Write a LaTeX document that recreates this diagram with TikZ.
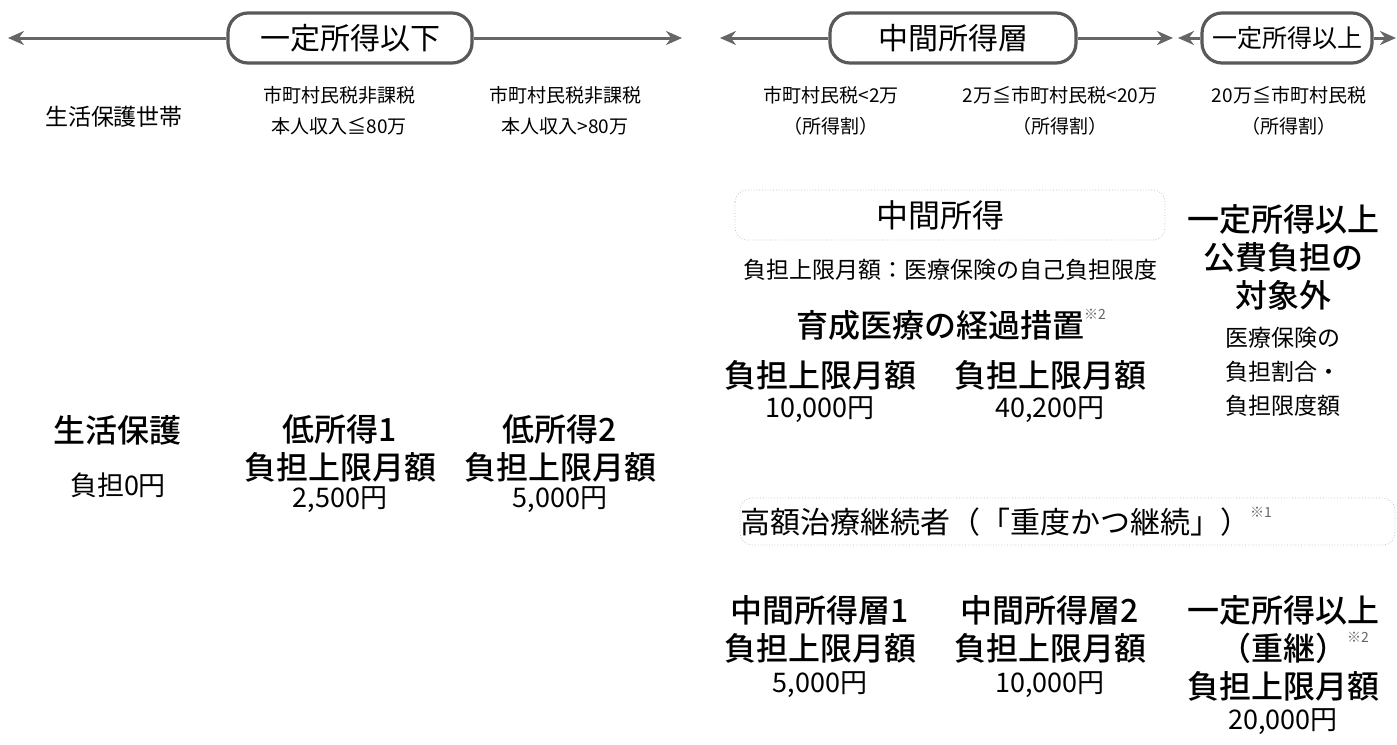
\documentclass[tikz,border=0pt]{standalone}
\usepackage{fontspec}
\setmainfont{Noto Sans CJK JP}[BoldFont={Noto Sans CJK JP Medium}]
\usetikzlibrary{arrows.meta,positioning}
\newcommand{\kome}[1]{\rlap{\raisebox{0.55em}{\normalfont\fontsize{7}{7}\selectfont\color{black!60}※#1}}}
\tikzset{
	x=0.5pt, y=-0.5pt,
	band/.style={draw=black!65, line width=1.6pt, rounded corners=10pt, minimum height=25pt, inner xsep=0pt, font=\fontsize{15}{15}\selectfont},
	span/.style={draw=black!60, line width=1.5pt, -{Stealth[length=8pt,width=7pt]}},
	cond/.style={font=\fontsize{9.5}{15.5}\selectfont, align=center, inner sep=0pt},
	lbl/.style={font=\fontsize{11.5}{17}\selectfont, align=center, inner sep=0pt},
	big/.style={font=\bfseries\fontsize{16}{19}\selectfont, align=center, inner sep=0pt},
	amt/.style={font=\fontsize{13.5}{17}\selectfont, align=center, inner sep=0pt},
	shade/.style={draw=black!25, densely dotted, rounded corners=6pt}
}
\begin{document}
\begin{tikzpicture}
	\useasboundingbox (0,0) rectangle (1397,744);
	
	% income bands
	\node[band, minimum width=122pt] (low) at (350, 38) {一定所得以下};
	\node[band, minimum width=123pt] (mid) at (953, 38) {中間所得層};
	\node[band, minimum width=85pt, font=\fontsize{12.5}{12.5}\selectfont] (high) at (1287, 38) {一定所得以上};
	\coordinate (lowL) at (8, 38);
	\coordinate (lowR) at (682, 38);
	\coordinate (midL) at (720, 38);
	\coordinate (midR) at (1173, 38);
	\coordinate (highL) at (1178, 38);
	\coordinate (highR) at (1396, 38);
	\draw[span] (low.west) -- (lowL);
	\draw[span] (low.east) -- (lowR);
	\draw[span] (mid.west) -- (midL);
	\draw[span] (mid.east) -- (midR);
	\draw[span] (high.west) -- (highL);
	\draw[span] (high.east) -- (highR);
	
	% conditions
	\node[lbl] (c0) at (114, 117) {生活保護世帯};
	\node[cond] (c1) at (339, 111) {市町村民税非課税\\本人収入≦80万};
	\node[cond] (c2) at (565, 111) {市町村民税非課税\\本人収入>80万};
	\node[cond] (c3) at (831, 111) {市町村民税<2万\\（所得割）};
	\node[cond] (c4) at (1060, 111) {2万≦市町村民税<20万\\（所得割）};
	\node[cond] (c5) at (1289, 111) {20万≦市町村民税\\（所得割）};
	
	% low income
	\node[big] (seiho) at (118, 430) {生活保護};
	\node[amt] (seihoY) at (118, 485) {負担0円};
	\node[big] (tei1) at (340, 448) {低所得1\\負担上限月額};
	\node[amt] (tei1Y) at (340, 500) {2,500円};
	\node[big] (tei2) at (560, 448) {低所得2\\負担上限月額};
	\node[amt] (tei2Y) at (560, 500) {5,000円};
	
	% middle income
	\draw[shade] (735, 190) rectangle (1165, 240);
	\node[big, font=\fontsize{16}{19}\selectfont] (chukan) at (940, 215) {中間所得};
	\node[lbl] (gendo) at (950, 270) {負担上限月額：医療保険の自己負担限度};
	\node[big] (ikusei) at (940, 325) {育成医療の経過措置\kome{2}};
	\node[big] (ik1) at (820, 375) {負担上限月額};
	\node[amt] (ik1Y) at (820, 410) {10,000円};
	\node[big] (ik2) at (1050, 375) {負担上限月額};
	\node[amt] (ik2Y) at (1050, 410) {40,200円};
	
	% high income
	\node[big] (gai) at (1283, 257) {一定所得以上\\公費負担の\\対象外};
	\node[lbl] (gaiT) at (1283, 372) {医療保険の\\負担割合・\\負担限度額};
	
	% heavy and continuing
	\draw[shade] (740, 498) rectangle (1395, 545);
	\node[big, font=\fontsize{15}{19}\selectfont] (juzoku) at (995, 522) {高額治療継続者（「重度かつ継続」）\kome{1}};
	\node[big] (jz1) at (820, 629) {中間所得層1\\負担上限月額};
	\node[amt] (jz1Y) at (820, 685) {5,000円};
	\node[big] (jz2) at (1050, 629) {中間所得層2\\負担上限月額};
	\node[amt] (jz2Y) at (1050, 685) {10,000円};
	\node[big] (jz3) at (1283, 648) {一定所得以上\\（重継）\kome{2}\\負担上限月額};
	\node[amt] (jz3Y) at (1283, 722) {20,000円};
\end{tikzpicture}
\end{document}
